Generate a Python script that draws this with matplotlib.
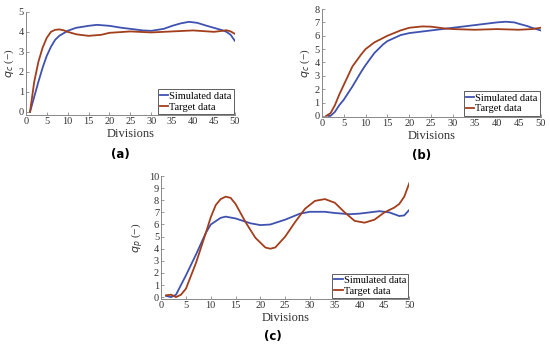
import matplotlib
matplotlib.use("Agg")
import matplotlib.pyplot as plt

# (a) q_c curves
xa_sim = [1, 2, 3, 4, 5, 6, 7, 8, 10, 12, 15, 17, 20, 23, 25, 28, 30, 33, 35, 37, 39, 41, 43, 45, 47, 48, 49, 50]
ya_sim = [0.0, 0.75, 1.5, 2.2, 2.8, 3.25, 3.6, 3.8, 4.05, 4.2, 4.3, 4.35, 4.3, 4.2, 4.15, 4.07, 4.05, 4.15, 4.3, 4.42, 4.5, 4.45, 4.32, 4.2, 4.08, 4.0, 3.85, 3.55]
xa_tgt = [1, 2, 3, 4, 5, 6, 7, 8, 9, 10, 12, 13, 15, 18, 20, 25, 30, 35, 40, 45, 47, 48, 49, 50]
ya_tgt = [0.0, 1.5, 2.5, 3.2, 3.7, 4.0, 4.1, 4.12, 4.08, 4.0, 3.88, 3.85, 3.8, 3.85, 3.95, 4.02, 3.97, 4.02, 4.07, 4.0, 4.05, 4.08, 4.02, 3.9]

# (b) q_c curves
xb_sim = [1.5, 2, 3, 4, 5, 7, 9, 10, 12, 14, 15, 18, 20, 25, 30, 35, 40, 42, 44, 45, 47, 48, 50]
yb_sim = [0.0, 0.0, 0.3, 0.8, 1.2, 2.2, 3.3, 3.8, 4.7, 5.35, 5.6, 6.05, 6.2, 6.4, 6.6, 6.8, 7.0, 7.05, 7.0, 6.9, 6.72, 6.6, 6.4]
xb_tgt = [1, 2, 3, 4, 5, 7, 9, 10, 12, 15, 18, 20, 23, 25, 28, 30, 35, 40, 45, 48, 50]
yb_tgt = [0.0, 0.2, 0.8, 1.6, 2.3, 3.7, 4.6, 5.0, 5.5, 6.0, 6.4, 6.6, 6.7, 6.68, 6.55, 6.5, 6.45, 6.5, 6.45, 6.5, 6.6]

# (c) q_p curves
xc_sim = [1, 2, 3, 4, 5, 7, 9, 10, 12, 13, 15, 18, 20, 22, 25, 28, 30, 33, 35, 38, 40, 44, 46, 48, 49, 50]
yc_sim = [0.1, 0.0, 0.2, 1.0, 1.8, 3.5, 5.3, 6.0, 6.55, 6.65, 6.5, 6.1, 5.95, 6.0, 6.4, 6.9, 7.05, 7.05, 6.95, 6.85, 6.9, 7.1, 7.0, 6.7, 6.75, 7.2]
xc_tgt = [1, 2, 3, 4, 5, 7, 9, 10, 11, 12, 13, 14, 15, 17, 19, 21, 22, 23, 25, 27, 29, 31, 33, 35, 37, 39, 41, 43, 45, 47, 48, 49, 50]
yc_tgt = [0.15, 0.2, 0.0, 0.2, 0.7, 2.8, 5.3, 6.6, 7.6, 8.1, 8.3, 8.2, 7.7, 6.2, 4.9, 4.1, 4.0, 4.1, 5.0, 6.2, 7.3, 7.95, 8.1, 7.8, 7.0, 6.3, 6.15, 6.4, 7.0, 7.4, 7.7, 8.3, 9.4]

sim_color = '#3F52B0'
tgt_color = '#A23E1C'
serif = 'Liberation Serif'

fig = plt.figure(figsize=(5.5, 3.48), dpi=100)

panels = [
    ([0.047, 0.670, 0.380, 0.296], xa_sim, ya_sim, xa_tgt, ya_tgt, (-0.15, 5), range(0, 6), r'$q_c$ (−)'),
    ([0.585, 0.665, 0.398, 0.309], xb_sim, yb_sim, xb_tgt, yb_tgt, (-0.05, 8), range(0, 9), r'$q_c$ (−)'),
    ([0.293, 0.141, 0.451, 0.353], xc_sim, yc_sim, xc_tgt, yc_tgt, (-0.15, 10), range(0, 11), r'$q_p$ (−)'),
]

for rect, xs, ys, xt, yt, ylim, yticks, ylab in panels:
    ax = fig.add_axes(rect)
    ax.plot(xs, ys, color=sim_color, lw=1.3, label='Simulated data')
    ax.plot(xt, yt, color=tgt_color, lw=1.3, label='Target data')
    ax.set_xlim(0, 50)
    ax.set_ylim(*ylim)
    ax.set_xticks(range(0, 51, 5))
    ax.set_yticks(list(yticks))
    for s in ['top', 'right']:
        ax.spines[s].set_visible(False)
    for s in ['left', 'bottom']:
        ax.spines[s].set_color('#888888')
        ax.spines[s].set_linewidth(0.7)
    ax.tick_params(direction='in', length=2, width=0.6, color='#888888',
                   labelsize=7.5, pad=1.5, labelcolor='#333333')
    for lbl in ax.get_xticklabels() + ax.get_yticklabels():
        lbl.set_family(serif)
    ax.set_xlabel('Divisions', fontsize=9, family=serif, color='#333333', labelpad=1.5)
    ax.set_ylabel(ylab, fontsize=8, family=serif, color='#333333', labelpad=2)
    leg = ax.legend(loc='lower right', prop={'family': serif, 'size': 7.5},
                    handlelength=0.8, handletextpad=0.1, borderpad=0.2,
                    labelspacing=0.15, fancybox=False, framealpha=1,
                    borderaxespad=0.1)
    leg.get_frame().set_edgecolor('#444444')
    leg.get_frame().set_linewidth(0.6)

fig.text(0.218, 0.555, '(a)', fontsize=8.5, fontweight='bold', ha='center', va='center')
fig.text(0.767, 0.552, '(b)', fontsize=8.5, fontweight='bold', ha='center', va='center')
fig.text(0.496, 0.032, '(c)', fontsize=8.5, fontweight='bold', ha='center', va='center')

fig.savefig('out.png', dpi=100)
